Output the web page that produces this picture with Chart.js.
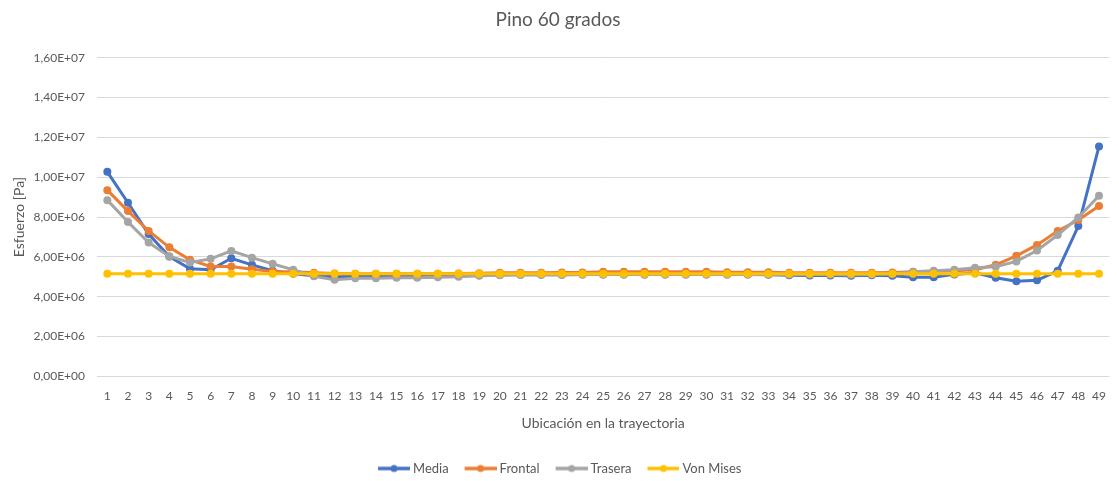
<!DOCTYPE html>
<html>
<head>
<meta charset="utf-8">
<script src="https://cdn.jsdelivr.net/npm/chart.js@4/dist/chart.umd.min.js"></script>
<style>
  html, body { margin:0; padding:0; background:#fff; }
  #wrap { width:1119px; height:481px; position:relative; }
</style>
</head>
<body>
<div id="wrap"><canvas id="grafico"></canvas></div>
<script>
(function(){
'use strict';

var ubicaciones = [1,2,3,4,5,6,7,8,9,10,11,12,13,14,15,16,17,18,19,20,21,22,23,24,25,
  26,27,28,29,30,31,32,33,34,35,36,37,38,39,40,41,42,43,44,45,46,47,48,49];

var media = [1.027e7,8.72e6,7.15e6,6.02e6,5.40e6,5.35e6,5.93e6,5.60e6,5.30e6,5.15e6,
  5.05e6,5.00e6,5.02e6,5.03e6,5.03e6,5.03e6,5.05e6,5.05e6,5.08e6,5.10e6,
  5.10e6,5.10e6,5.10e6,5.12e6,5.12e6,5.12e6,5.12e6,5.12e6,5.12e6,5.12e6,
  5.12e6,5.12e6,5.10e6,5.08e6,5.07e6,5.07e6,5.05e6,5.08e6,5.05e6,4.98e6,
  4.98e6,5.12e6,5.20e6,4.95e6,4.77e6,4.82e6,5.30e6,7.55e6,1.155e7];

var frontal = [9.35e6,8.30e6,7.30e6,6.48e6,5.85e6,5.52e6,5.52e6,5.38e6,5.27e6,5.25e6,
  5.20e6,5.17e6,5.15e6,5.15e6,5.15e6,5.15e6,5.15e6,5.17e6,5.18e6,5.20e6,
  5.20e6,5.20e6,5.22e6,5.22e6,5.25e6,5.25e6,5.25e6,5.25e6,5.25e6,5.25e6,
  5.23e6,5.23e6,5.23e6,5.20e6,5.20e6,5.20e6,5.20e6,5.20e6,5.22e6,5.25e6,
  5.28e6,5.30e6,5.35e6,5.60e6,6.05e6,6.60e6,7.30e6,7.85e6,8.55e6];

var trasera = [8.85e6,7.75e6,6.72e6,6.02e6,5.72e6,5.90e6,6.30e6,5.96e6,5.65e6,5.35e6,
  5.02e6,4.85e6,4.92e6,4.93e6,4.95e6,4.95e6,4.98e6,5.00e6,5.05e6,5.08e6,
  5.10e6,5.10e6,5.10e6,5.12e6,5.12e6,5.12e6,5.12e6,5.12e6,5.12e6,5.12e6,
  5.12e6,5.12e6,5.12e6,5.12e6,5.12e6,5.12e6,5.10e6,5.12e6,5.15e6,5.25e6,
  5.30e6,5.35e6,5.45e6,5.50e6,5.77e6,6.32e6,7.10e6,7.98e6,9.07e6];

var vonMises = [5.15e6,5.15e6,5.15e6,5.15e6,5.15e6,5.15e6,5.15e6,5.15e6,5.15e6,5.15e6,
  5.15e6,5.15e6,5.15e6,5.15e6,5.15e6,5.15e6,5.15e6,5.15e6,5.15e6,5.15e6,
  5.15e6,5.15e6,5.15e6,5.15e6,5.15e6,5.15e6,5.15e6,5.15e6,5.15e6,5.15e6,
  5.15e6,5.15e6,5.15e6,5.15e6,5.15e6,5.15e6,5.15e6,5.15e6,5.15e6,5.15e6,
  5.15e6,5.15e6,5.15e6,5.15e6,5.15e6,5.15e6,5.15e6,5.15e6,5.15e6];

var SERIES = [
  {label:'Media', data:media, color:'#4472C4', order:3},
  {label:'Frontal', data:frontal, color:'#ED7D31', order:2},
  {label:'Trasera', data:trasera, color:'#A5A5A5', order:1},
  {label:'Von Mises', data:vonMises, color:'#FFC000', order:0}
];

var TEXT = '#595959';
var FONT = 'Lato, "Liberation Sans", sans-serif';

function fmtExp(v) {
  if (v === 0) return '0,00E+00';
  var e = Math.floor(Math.log10(Math.abs(v)) + 1e-9);
  var m = v / Math.pow(10, e);
  var s = e < 0 ? '-' : '+';
  var ea = String(Math.abs(e)).padStart(2,'0');
  return m.toFixed(2).replace('.', ',') + 'E' + s + ea;
}

// marca de leyenda: linea con punto, pegada a la derecha para acercar el texto
function marcaLeyenda(color) {
  var c = document.createElement('canvas');
  c.width = 39; c.height = 10;
  var g = c.getContext('2d');
  g.strokeStyle = color; g.lineWidth = 3.5;
  g.beginPath(); g.moveTo(7,5); g.lineTo(39,5); g.stroke();
  g.fillStyle = color;
  g.beginPath(); g.arc(23,5,3.5,0,Math.PI*2); g.fill();
  return c;
}

var datasets = SERIES.map(function(s){
  return {
    label: s.label,
    data: s.data,
    borderColor: s.color,
    backgroundColor: s.color,
    borderWidth: 3,
    pointRadius: 4,
    pointHoverRadius: 4,
    pointBorderWidth: 0,
    tension: 0,
    fill: false,
    order: s.order,
    marca: marcaLeyenda(s.color)
  };
});

new Chart(document.getElementById('grafico').getContext('2d'), {
  type: 'line',
  data: { labels: ubicaciones, datasets: datasets },
  options: {
    responsive: true,
    maintainAspectRatio: false,
    animation: false,
    layout: { padding: { left: 0, right: 3, top: 6, bottom: -4 } },
    scales: {
      x: {
        offset: true,
        grid: { display: false, drawTicks: false },
        border: { display: false },
        ticks: { color: TEXT, font: { family: FONT, size: 12 }, padding: 13, autoSkip: false, maxRotation: 0 },
        title: { display: true, text: 'Ubicación en la trayectoria', color: TEXT, font: { family: FONT, size: 14 }, padding: { top: -2, bottom: 18 } }
      },
      y: {
        min: 0, max: 1.6e7,
        grid: { color: '#D9D9D9', lineWidth: 1, drawTicks: false },
        border: { display: false },
        ticks: { stepSize: 2e6, color: TEXT, font: { family: FONT, size: 12 }, padding: 12, callback: function(v){ return fmtExp(v); } },
        title: { display: true, text: 'Esfuerzo [Pa]', color: TEXT, font: { family: FONT, size: 14 }, padding: { top: 11, bottom: 0 } },
        afterFit: function(scale){ scale.width = 97; }
      }
    },
    plugins: {
      title: { display: true, text: 'Pino 60 grados', color: TEXT, font: { family: FONT, size: 19, weight: 'normal' }, padding: { top: 2, bottom: 27 } },
      legend: {
        position: 'bottom',
        labels: {
          color: TEXT,
          font: { family: FONT, size: 13 },
          usePointStyle: true,
          pointStyleWidth: 32,
          padding: 12.5,
          sort: function(a,b){ return a.datasetIndex - b.datasetIndex; },
          generateLabels: function(chart) {
            return chart.data.datasets.map(function(ds, i){
              return { text: ds.label, pointStyle: ds.marca, fillStyle: ds.borderColor, strokeStyle: ds.borderColor,
                       lineWidth: 0, fontColor: TEXT, hidden: false, datasetIndex: i };
            });
          }
        }
      },
      tooltip: { enabled: false }
    }
  }
});

})();
</script>
</body>
</html>
